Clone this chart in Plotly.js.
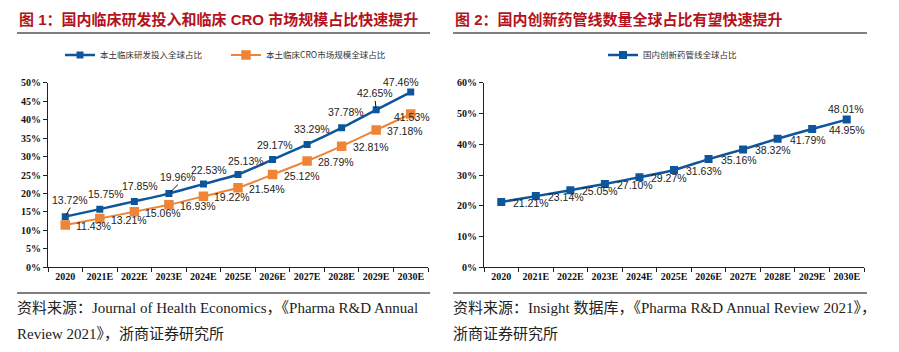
<!DOCTYPE html>
<html>
<head>
<meta charset="utf-8">
<script src="https://cdn.plot.ly/plotly-3.0.1.min.js"></script>
<style>
  html, body { margin: 0; padding: 0; background: #fff; }
  #chart { width: 899px; height: 352px; }
</style>
</head>
<body>
<div id="chart"></div>
<script>
// ---- data ----
const categories = ["2020", "2021E", "2022E", "2023E", "2024E", "2025E", "2026E", "2027E", "2028E", "2029E", "2030E"];
const rdShare = [13.72, 15.75, 17.85, 19.96, 22.53, 25.13, 29.17, 33.29, 37.78, 42.65, 47.46];
const croShare = [11.43, 13.21, 15.06, 16.93, 19.22, 21.54, 25.12, 28.79, 32.81, 37.18, 41.53];
const pipelineShare = [21.21, 23.14, 25.05, 27.10, 29.27, 31.63, 35.16, 38.32, 41.79, 44.95, 48.01];
const leftTicks = [0, 5, 10, 15, 20, 25, 30, 35, 40, 45, 50];
const rightTicks = [0, 10, 20, 30, 40, 50, 60];
const nameRd = "本土临床研发投入全球占比";
const nameCro = "本土临床CRO市场规模全球占比";
const namePipe = "国内创新药管线全球占比";
const title1 = "图 1：国内临床研发投入和临床 CRO 市场规模占比快速提升";
const title2 = "图 2：国内创新药管线数量全球占比有望快速提升";
const src1a = "资料来源：Journal of Health Economics，《Pharma R&amp;D Annual";
const src1b = "Review 2021》，浙商证券研究所";
const src2a = "资料来源：Insight 数据库，《Pharma R&amp;D Annual Review 2021》，";
const src2b = "浙商证券研究所";

// ---- styles ----
const BLUE = "#0E569C";
const ORANGE = "#EF8437";
const RED = "#B5121B";
const labelFont = {family: "Liberation Sans, Arial, sans-serif", size: 10.5, color: "#222"};
const tickFont = {family: "Liberation Serif, Times New Roman, serif", size: 10, color: "#111", weight: "bold"};
const cjkLegend = {family: "Noto Sans CJK SC, sans-serif", size: 8.5, color: "#333"};
const titleFont = {family: "Liberation Sans, Noto Sans CJK SC, sans-serif", size: 15, color: RED, weight: "bold"};
const srcFont = {family: "Liberation Serif, Noto Sans CJK SC, serif", size: 15, color: "#222"};

const W = 899, H = 352;
const px = x => x / W;
const py = y => 1 - y / H;

const traces = [
  {x: categories, y: rdShare, name: nameRd, type: "scatter", mode: "lines+markers",
   line: {color: BLUE, width: 2.5, shape: "spline", smoothing: 0.6},
   marker: {symbol: "square", size: 7, color: BLUE},
   xaxis: "x", yaxis: "y", legend: "legend", hoverinfo: "skip"},
  {x: categories, y: croShare, name: nameCro, type: "scatter", mode: "lines+markers",
   line: {color: ORANGE, width: 2, shape: "spline", smoothing: 0.6},
   marker: {symbol: "square", size: 9.5, color: ORANGE},
   xaxis: "x", yaxis: "y", legend: "legend", hoverinfo: "skip"},
  {x: categories, y: pipelineShare, name: namePipe, type: "scatter", mode: "lines+markers",
   line: {color: BLUE, width: 2.5, shape: "spline", smoothing: 0.6},
   marker: {symbol: "square", size: 8, color: BLUE},
   xaxis: "x2", yaxis: "y2", legend: "legend2", hoverinfo: "skip"}
];

const annotations = [];
// blue series labels (above, some with leader arrows)
const rdArrow = {0: true, 3: true, 9: true};
const rdXs = [0, 6, 6, 4, 6, 8, 2, 5, 4, -6, -10];
const rdYs = [0, 7, 7, 0, 6, 6, 7, 7, 8, 0, 2];
rdShare.forEach((v, i) => {
  const a = {x: i, y: v, xref: "x", yref: "y", text: v.toFixed(2) + "%",
             font: labelFont, xanchor: "center", yanchor: "bottom"};
  if (rdArrow[i]) {
    Object.assign(a, {showarrow: true, arrowhead: 0, arrowwidth: 1, arrowcolor: "#111",
                      ax: rdXs[i] + 5, ay: -9, standoff: 2});
  } else {
    Object.assign(a, {showarrow: false, xshift: rdXs[i], yshift: rdYs[i]});
  }
  annotations.push(a);
});
// orange series labels (right of points)
croShare.forEach((v, i) => {
  const last = i === croShare.length - 1;
  annotations.push({x: i, y: v, xref: "x", yref: "y", text: v.toFixed(2) + "%",
    font: labelFont, showarrow: false, xanchor: "left", yanchor: "middle",
    xshift: last ? -19 : 9, yshift: last ? -3 : -1});
});
// pipeline labels
pipelineShare.forEach((v, i) => {
  const last = i === pipelineShare.length - 1;
  annotations.push({x: i, y: v, xref: "x2", yref: "y2", text: v.toFixed(2) + "%",
    font: labelFont, showarrow: false,
    xanchor: last ? "center" : "left", yanchor: last ? "bottom" : "middle",
    xshift: last ? -1 : (i === 9 ? 15 : 10), yshift: last ? 3 : -1});
});
// titles and sources
annotations.push(
  {text: title1, x: px(17), y: py(20), xref: "paper", yref: "paper", xanchor: "left", yanchor: "middle", showarrow: false, font: titleFont},
  {text: title2, x: px(453), y: py(20), xref: "paper", yref: "paper", xanchor: "left", yanchor: "middle", showarrow: false, font: titleFont},
  {text: src1a, x: px(15), y: py(308), xref: "paper", yref: "paper", xanchor: "left", yanchor: "middle", showarrow: false, font: srcFont},
  {text: src1b, x: px(15), y: py(334), xref: "paper", yref: "paper", xanchor: "left", yanchor: "middle", showarrow: false, font: srcFont},
  {text: src2a, x: px(451), y: py(308), xref: "paper", yref: "paper", xanchor: "left", yanchor: "middle", showarrow: false, font: srcFont},
  {text: src2b, x: px(451), y: py(334), xref: "paper", yref: "paper", xanchor: "left", yanchor: "middle", showarrow: false, font: srcFont}
);

const shapes = [
  {type: "line", xref: "paper", yref: "paper", x0: px(17), x1: px(430), y0: py(33), y1: py(33), line: {color: "#000", width: 1.2}},
  {type: "line", xref: "paper", yref: "paper", x0: px(453), x1: px(867), y0: py(33), y1: py(33), line: {color: "#000", width: 1.2}},
  {type: "line", xref: "paper", yref: "paper", x0: px(17), x1: px(430), y0: py(293), y1: py(293), line: {color: "#000", width: 1.2}},
  {type: "line", xref: "paper", yref: "paper", x0: px(453), x1: px(867), y0: py(293), y1: py(293), line: {color: "#000", width: 1.2}}
];

const commonX = {type: "category", showgrid: false, zeroline: false, showline: true, linecolor: "#222", linewidth: 1,
  ticks: "outside", ticklen: 4, tickcolor: "#222", tickson: "boundaries", tickfont: tickFont, tickangle: 0, fixedrange: true};
const commonY = {showgrid: false, zeroline: false, showline: true, linecolor: "#222", linewidth: 1,
  ticks: "outside", ticklen: 4, tickcolor: "#222", tickfont: tickFont, tickmode: "array", fixedrange: true};

const layout = {
  width: W, height: H,
  margin: {l: 0, r: 0, t: 0, b: 0},
  paper_bgcolor: "#fff", plot_bgcolor: "#fff",
  showlegend: true,
  xaxis: Object.assign({}, commonX, {domain: [px(48), px(428)], anchor: "y", range: [-0.5, 10.5]}),
  yaxis: Object.assign({}, commonY, {domain: [py(267.3), py(82.7)], anchor: "x", range: [0, 50],
    tickvals: leftTicks, ticktext: leftTicks.map(t => t + "%")}),
  xaxis2: Object.assign({}, commonX, {domain: [px(484), px(864)], anchor: "y2", range: [-0.5, 10.5]}),
  yaxis2: Object.assign({}, commonY, {domain: [py(267.3), py(82.7)], anchor: "x2", range: [0, 60],
    tickvals: rightTicks, ticktext: rightTicks.map(t => t + "%")}),
  legend: {orientation: "h", x: px(60), y: py(55), xanchor: "left", yanchor: "middle", font: cjkLegend,
           bgcolor: "rgba(0,0,0,0)", itemwidth: 30, entrywidth: 121, entrywidthmode: "pixels"},
  legend2: {orientation: "h", x: px(603), y: py(55), xanchor: "left", yanchor: "middle", font: cjkLegend,
           bgcolor: "rgba(0,0,0,0)", itemwidth: 30},
  annotations: annotations,
  shapes: shapes
};

Plotly.newPlot("chart", traces, layout, {staticPlot: true, displayModeBar: false});
</script>
</body>
</html>
